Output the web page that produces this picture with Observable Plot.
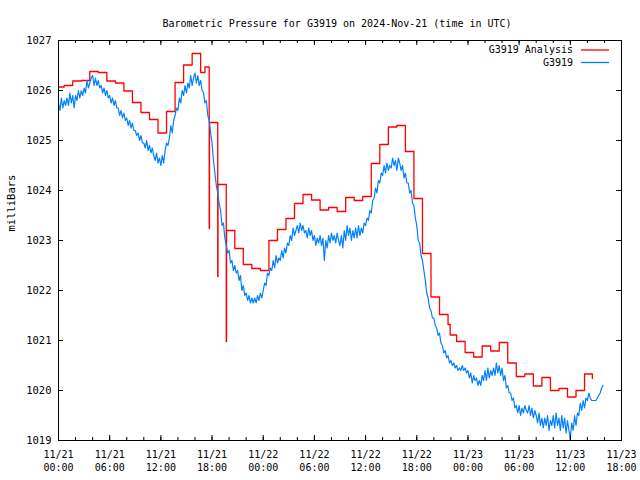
<!DOCTYPE html>
<html><head><meta charset="utf-8">
<script src="https://cdn.jsdelivr.net/npm/d3@7"></script>
<script src="https://cdn.jsdelivr.net/npm/@observablehq/plot@0.6"></script>
<style>body{margin:0;background:#fff} svg{display:block}</style>
</head><body><div id="chart"></div>
<script>
const titleText = "Barometric Pressure for G3919 on 2024-Nov-21 (time in UTC)";
const yLabel = "milliBars";
const seriesNames = ["G3919 Analysis", "G3919"];
const seriesColors = ["#ff0000", "#0080ff"];
const yTicks = [1019, 1020, 1021, 1022, 1023, 1024, 1025, 1026, 1027];
const xTickLabels = ["11/21\n00:00","11/21\n06:00","11/21\n12:00","11/21\n18:00",
  "11/22\n00:00","11/22\n06:00","11/22\n12:00","11/22\n18:00",
  "11/23\n00:00","11/23\n06:00","11/23\n12:00","11/23\n18:00"];

// Analysis (step) series: elapsed time since 11/21 00:00 UTC (h:mm), value
const redElapsed = ["0:00","0:40","1:40","2:40","3:40","4:40","5:40","6:40","7:40","8:40",
  "9:40","10:40","11:40","12:40","13:40","14:40","15:40","16:40","17:10",
  "17:40","17:42","18:40","18:42","19:40","19:42","20:40","21:40","22:40","23:40",
  "24:40","25:40","26:40","27:40","28:40","29:40","30:40","31:40","32:40","33:40",
  "34:40","35:40","36:40","37:40","38:40","39:40","40:40","41:40","42:40","43:40",
  "44:40","45:40","45:55","46:40","47:40","48:40","49:40","50:40","51:40","52:40","53:40",
  "54:40","55:40","56:40","57:40","58:40","59:40","60:40","61:40","62:35"];
const redValues = [1026.07,1026.10,1026.19,1026.20,1026.38,1026.36,1026.19,1026.15,1025.99,1025.76,
  1025.56,1025.42,1025.15,1025.58,1026.16,1026.51,1026.74,1026.36,1026.47,
  1023.24,1025.36,1022.28,1024.12,1020.98,1023.20,1022.84,1022.52,1022.44,1022.40,
  1023.00,1023.22,1023.44,1023.74,1023.92,1023.81,1023.61,1023.66,1023.58,1023.86,
  1023.80,1023.88,1024.54,1024.92,1025.27,1025.30,1024.78,1023.84,1022.74,1021.87,
  1021.52,1021.32,1021.11,1020.98,1020.76,1020.67,1020.89,1020.79,1020.96,1020.55,1020.28,
  1020.33,1020.09,1020.26,1020.00,1020.04,1019.87,1020.00,1020.33,1020.24];

// Station series: one reading every 10 minutes from 11/21 00:00 UTC
const blueStepMinutes = 10;
const blueValues = [
  1025.75,1025.60,1025.85,1025.65,1025.80,1025.70, 1025.85,1025.70,1025.95,1025.75,1025.90,1025.65,
  1025.90,1025.80,1026.00,1025.85,1026.00,1025.90, 1026.05,1025.95,1026.20,1026.05,1026.15,1026.25,
  1026.30,1026.10,1026.25,1026.10,1026.20,1026.05, 1026.10,1025.95,1026.05,1025.90,1026.00,1025.85,
  1025.90,1025.75,1025.85,1025.70,1025.80,1025.65, 1025.65,1025.50,1025.60,1025.45,1025.55,1025.40,
  1025.45,1025.30,1025.40,1025.25,1025.35,1025.20, 1025.20,1025.10,1025.15,1025.00,1025.10,1024.95,
  1024.95,1024.85,1025.00,1024.80,1024.90,1024.75, 1024.85,1024.70,1024.60,1024.75,1024.55,1024.65,
  1024.50,1024.70,1024.55,1024.80,1024.95,1024.90, 1025.05,1025.30,1025.15,1025.40,1025.50,1025.65,
  1025.60,1025.85,1025.75,1026.00,1025.90,1026.10, 1025.95,1026.15,1026.05,1026.30,1026.10,1026.25,
  1026.35,1026.15,1026.30,1026.10,1026.20,1026.00, 1025.95,1025.75,1025.80,1025.50,1025.40,1025.15,
  1024.95,1024.60,1024.35,1024.10,1023.95,1023.75, 1023.60,1023.30,1023.35,1023.05,1022.90,1022.75,
  1022.80,1022.55,1022.60,1022.40,1022.50,1022.35, 1022.40,1022.20,1022.30,1022.00,1022.10,1021.90,
  1021.95,1021.80,1021.90,1021.75,1021.85,1021.75, 1021.85,1021.75,1021.90,1021.80,1021.95,1021.85,
  1022.00,1022.15,1022.10,1022.35,1022.30,1022.45, 1022.40,1022.60,1022.45,1022.70,1022.55,1022.65,
  1022.60,1022.80,1022.65,1022.85,1022.75,1022.95, 1022.90,1023.10,1023.00,1023.25,1023.10,1023.20,
  1023.30,1023.15,1023.35,1023.20,1023.30,1023.15, 1023.20,1023.05,1023.25,1023.10,1023.20,1023.00,
  1023.10,1022.90,1023.05,1022.95,1023.10,1022.90, 1023.05,1022.60,1023.00,1022.85,1023.10,1022.95,
  1023.15,1023.00,1023.10,1022.95,1023.15,1023.00, 1022.90,1023.10,1022.85,1023.20,1023.00,1023.30,
  1023.10,1023.25,1023.00,1023.20,1023.05,1023.25, 1023.05,1023.30,1023.10,1023.25,1023.15,1023.35,
  1023.30,1023.45,1023.40,1023.60,1023.55,1023.80, 1023.85,1024.05,1023.95,1024.20,1024.15,1024.35,
  1024.30,1024.50,1024.35,1024.55,1024.40,1024.50, 1024.45,1024.65,1024.50,1024.60,1024.40,1024.65,
  1024.55,1024.40,1024.50,1024.25,1024.35,1024.15, 1024.15,1023.95,1024.00,1023.75,1023.70,1023.45,
  1023.30,1023.00,1022.95,1022.70,1022.60,1022.40, 1022.20,1021.95,1021.85,1021.65,1021.60,1021.45,
  1021.45,1021.30,1021.25,1021.10,1021.15,1020.95, 1020.90,1020.75,1020.80,1020.65,1020.70,1020.55,
  1020.60,1020.50,1020.55,1020.45,1020.50,1020.40, 1020.45,1020.40,1020.50,1020.40,1020.45,1020.35,
  1020.40,1020.25,1020.35,1020.15,1020.30,1020.20, 1020.25,1020.10,1020.20,1020.10,1020.30,1020.20,
  1020.40,1020.20,1020.45,1020.25,1020.40,1020.30, 1020.45,1020.30,1020.55,1020.35,1020.50,1020.30,
  1020.45,1020.20,1020.30,1020.05,1020.10,1019.95, 1019.95,1019.80,1019.85,1019.65,1019.70,1019.55,
  1019.70,1019.50,1019.65,1019.55,1019.70,1019.60, 1019.55,1019.70,1019.50,1019.65,1019.45,1019.60,
  1019.50,1019.35,1019.55,1019.30,1019.45,1019.25, 1019.45,1019.30,1019.50,1019.20,1019.40,1019.30,
  1019.50,1019.25,1019.55,1019.30,1019.45,1019.20, 1019.50,1019.25,1019.45,1019.15,1019.40,1019.20,
  1019.05,1019.35,1019.20,1019.50,1019.30,1019.55, 1019.50,1019.75,1019.60,1019.80,1019.65,1019.85,
  1019.80,1019.95,1019.85,1019.80,1019.80,1019.80, 1019.80,1019.85,1019.90,1019.95,1020.05,1020.10];

const t0 = Date.UTC(2024, 10, 21, 0, 0);
const H = 3600000;
const parseElapsed = s => { const [h, m] = s.split(":").map(Number); return new Date(t0 + (h * 60 + m) * 60000); };
const red = redElapsed.map((s, i) => ({t: parseElapsed(s), v: redValues[i]}));
const blue = blueValues.map((v, i) => ({t: new Date(t0 + i * blueStepMinutes * 60000), v}));
const majors = d3.range(0, 67, 6).map(h => new Date(t0 + h * H));
const minors = d3.range(0, 67, 2).map(h => new Date(t0 + h * H));
const xDomain = [new Date(t0), new Date(t0 + 66 * H)];
const font = "DejaVu Sans Mono";

const W = 640, HT = 480, mL = 58, mR = 19, mT = 40, mB = 40;
const fw = W - mL - mR, fh = HT - mT - mB;

const chart = Plot.plot({
  width: W, height: HT,
  marginLeft: mL, marginRight: mR, marginTop: mT, marginBottom: mB,
  style: {fontFamily: font, fontSize: "10px", color: "black", background: "white"},
  x: {type: "utc", domain: xDomain},
  y: {domain: [1019, 1027]},
  marks: [
    Plot.line(red, {x: "t", y: "v", curve: "step-after", stroke: seriesColors[0], strokeWidth: 1.3}),
    Plot.line(blue, {x: "t", y: "v", stroke: seriesColors[1], strokeWidth: 1.2}),
    // inward ticks on all four sides
    Plot.tickX(minors, {x: d => d, insetTop: fh - 3, stroke: "black"}),
    Plot.tickX(minors, {x: d => d, insetBottom: fh - 3, stroke: "black"}),
    Plot.tickX(majors, {x: d => d, insetTop: fh - 5, stroke: "black"}),
    Plot.tickX(majors, {x: d => d, insetBottom: fh - 5, stroke: "black"}),
    Plot.tickY(yTicks, {y: d => d, insetRight: fw - 5, stroke: "black"}),
    Plot.tickY(yTicks, {y: d => d, insetLeft: fw - 5, stroke: "black"}),
    Plot.axisX(majors, {tickSize: 0, tickPadding: 9, lineHeight: 1.25, fontSize: 10,
      tickFormat: d => xTickLabels[Math.round((d - t0) / (6 * H))], label: null}),
    Plot.axisY(yTicks, {tickSize: 0, tickPadding: 7, fontSize: 10.5, tickFormat: d => String(d), label: null}),
    Plot.frame({stroke: "black"}),
    Plot.text([titleText], {frameAnchor: "top", dy: -21, dx: -3, fontSize: 10}),
    Plot.text([yLabel], {frameAnchor: "left", dx: -47, dy: -9, rotate: -90, fontSize: 10.5})
  ]
});

// legend (inside top-right of the frame)
const svg = d3.select(chart);
seriesNames.forEach((name, i) => {
  const y = mT + 10 + i * 12.5;
  svg.append("text").attr("x", W - mR - 48).attr("y", y).attr("text-anchor", "end")
    .attr("dominant-baseline", "middle").attr("font-family", font).attr("font-size", 10).text(name);
  svg.append("line").attr("x1", W - mR - 40).attr("x2", W - mR - 12).attr("y1", y).attr("y2", y)
    .attr("stroke", seriesColors[i]).attr("stroke-width", 1.3);
});
document.getElementById("chart").appendChild(chart);
</script></body></html>
